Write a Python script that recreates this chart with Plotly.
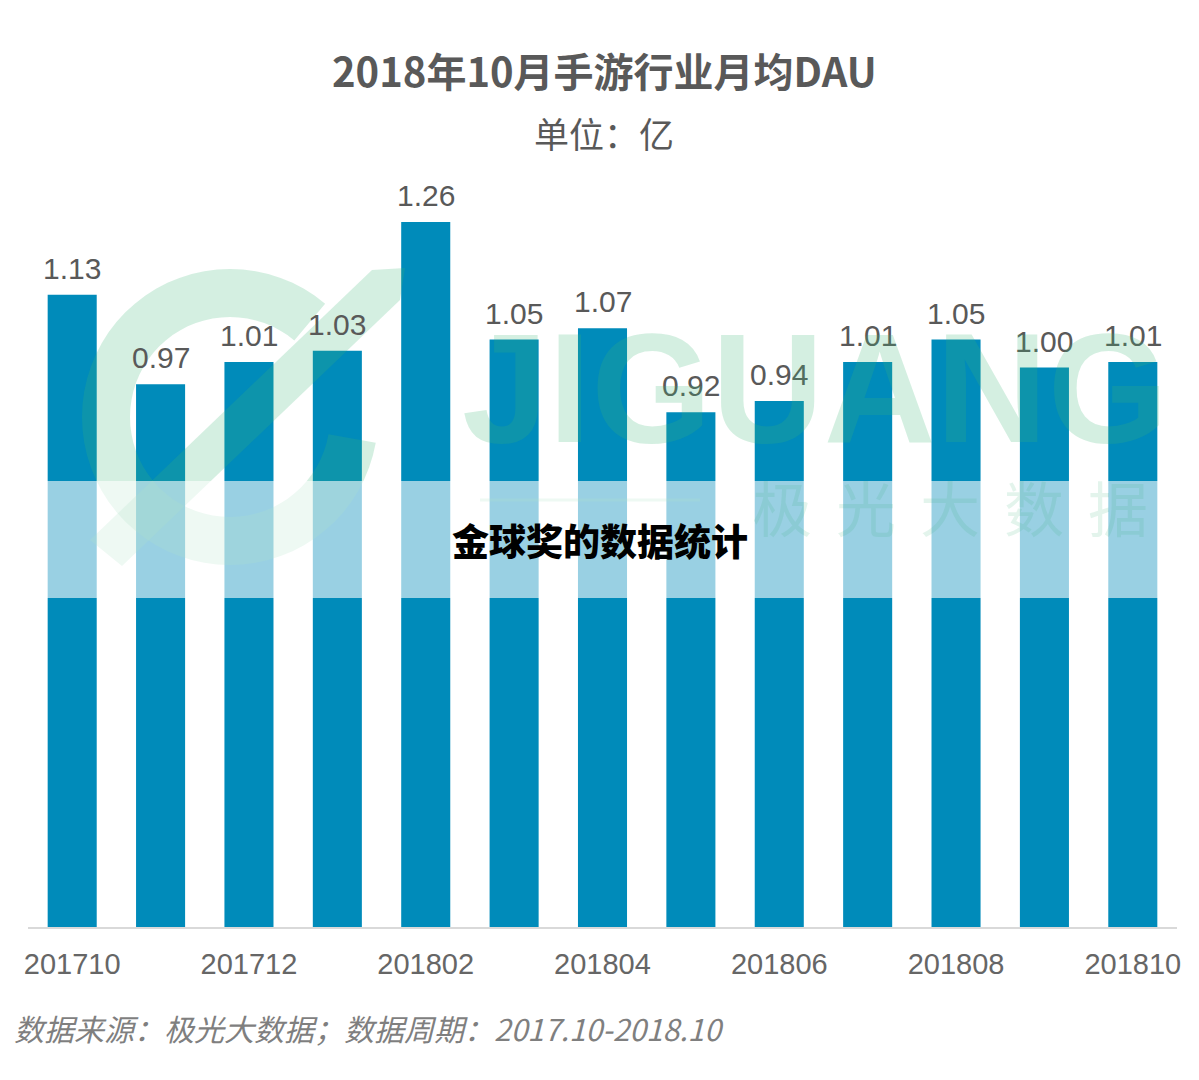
import math
import plotly.graph_objects as go

# ---- data ----
months = ["201710", "201711", "201712", "201801", "201802", "201803", "201804",
          "201805", "201806", "201807", "201808", "201809", "201810"]
dau = [1.13, 0.97, 1.01, 1.03, 1.26, 1.05, 1.07, 0.92, 0.94, 1.01, 1.05, 1.00, 1.01]
tick_labels = ["201710", "201712", "201802", "201804", "201806", "201808", "201810"]
title_text = "2018年10月手游行业月均DAU"
subtitle_text = "单位：亿"
source_text = "数据来源：极光大数据；数据周期：2017.10-2018.10"
overlay_text = "金球奖的数据统计"

OFF = 8  # page body margin
W, H = 1199 - OFF, 1080 - OFF
# plot area in page pixels: x 28..1177, y 180..927
ML = 28 - OFF
MT = 180 - OFF
MR = W - (1177 - OFF)
MB = H - (927 - OFF)
PW, PH = W - ML - MR, H - MT - MB


def px(X):
    return (X - 28) / PW


def py(Y):
    return (927 - Y) / PH


BAR = "#008BBA"
GRAY = "#595959"
WM = "rgba(60,180,120,0.22)"

fig = go.Figure()
fig.add_trace(go.Bar(x=months, y=dau, marker=dict(color=BAR, line=dict(width=0)),
                     hoverinfo="x+y"))

annotations = []
for i, v in enumerate(dau):
    annotations.append(dict(x=i, y=v, xref="x", yref="y", text=f"{v:.2f}",
                            showarrow=False, yanchor="bottom", yshift=8,
                            font=dict(family="Liberation Sans, Arial", size=30, color=GRAY)))

# watermark text
annotations.append(dict(x=px(815), y=py(388), xref="paper", yref="paper", text="JIGUANG",
                        showarrow=False, xanchor="center", yanchor="middle",
                        font=dict(family="Liberation Sans, Arial", size=155, color=WM, weight="bold")))
for ch, cx in zip("极光大数据", [782, 866, 950, 1034, 1118]):
    annotations.append(dict(x=px(cx), y=py(505), xref="paper", yref="paper", text=ch,
                            showarrow=False, xanchor="center", yanchor="middle",
                            font=dict(family="Noto Sans CJK SC", size=60, color="rgba(60,180,120,0.14)")))

annotations += [
    dict(x=px(604), y=py(70), xref="paper", yref="paper", text=title_text, showarrow=False,
         xanchor="center", yanchor="middle",
         font=dict(family="Noto Sans CJK SC", size=40, color=GRAY, weight="bold")),
    dict(x=px(604), y=py(132), xref="paper", yref="paper", text=subtitle_text, showarrow=False,
         xanchor="center", yanchor="middle",
         font=dict(family="Noto Sans CJK SC", size=35, color=GRAY)),
    dict(x=px(12), y=py(1028), xref="paper", yref="paper", text=source_text, showarrow=False,
         xanchor="left", yanchor="middle",
         font=dict(family="Noto Sans CJK SC", size=30, color="#7F7F7F", style="italic")),
    dict(x=px(600), y=py(540), xref="paper", yref="paper", text=overlay_text, showarrow=False,
         xanchor="center", yanchor="middle",
         font=dict(family="Noto Sans CJK SC", size=37, color="#000000", weight=900)),
]

# watermark logo: ring arc + diagonal arrow (page pixels -> paper)
cx0, cy0, R, r = 230, 417, 148, 100
pts = []
a0, a1 = 50, 350
n = 60
for k in range(n + 1):
    a = math.radians(a0 + (a1 - a0) * k / n)
    pts.append((cx0 + R * math.cos(a), cy0 - R * math.sin(a)))
for k in range(n, -1, -1):
    a = math.radians(a0 + (a1 - a0) * k / n)
    pts.append((cx0 + r * math.cos(a), cy0 - r * math.sin(a)))
ring_path = "M " + " L ".join(f"{px(X):.5f},{py(Y):.5f}" for X, Y in pts) + " Z"
arrow = [(90, 540), (122, 566), (400, 300), (405, 268), (372, 270)]
arrow_path = "M " + " L ".join(f"{px(X):.5f},{py(Y):.5f}" for X, Y in arrow) + " Z"

shapes = [
    dict(type="path", path=ring_path, xref="paper", yref="paper", fillcolor=WM,
         line=dict(width=0), layer="above"),
    dict(type="path", path=arrow_path, xref="paper", yref="paper", fillcolor=WM,
         line=dict(width=0), layer="above"),
    dict(type="line", x0=px(480), x1=px(700), y0=py(500), y1=py(500), xref="paper", yref="paper",
         line=dict(color=WM, width=3), layer="above"),
    # translucent white band
    dict(type="rect", x0=px(0), x1=px(1199), y0=py(598), y1=py(481), xref="paper", yref="paper",
         fillcolor="rgba(255,255,255,0.6)", line=dict(width=0), layer="above"),
]

fig.update_layout(
    width=W, height=H,
    margin=dict(l=ML, r=MR, t=MT, b=MB, pad=0),
    paper_bgcolor="white", plot_bgcolor="white",
    showlegend=False, bargap=0.445,
    annotations=annotations, shapes=shapes,
    xaxis=dict(type="category", tickmode="array", tickvals=tick_labels, ticktext=tick_labels,
               showline=True, linecolor="#D9D9D9", linewidth=2, showgrid=False,
               ticks="outside", ticklen=10, tickcolor="rgba(0,0,0,0)",
               tickfont=dict(family="Liberation Sans, Arial", size=29, color="#666666"),
               range=[-0.5, len(months) - 0.5], fixedrange=True),
    yaxis=dict(range=[0, PH / 559.5], visible=False, showgrid=False, fixedrange=True),
)

fig.write_html("out.html")
